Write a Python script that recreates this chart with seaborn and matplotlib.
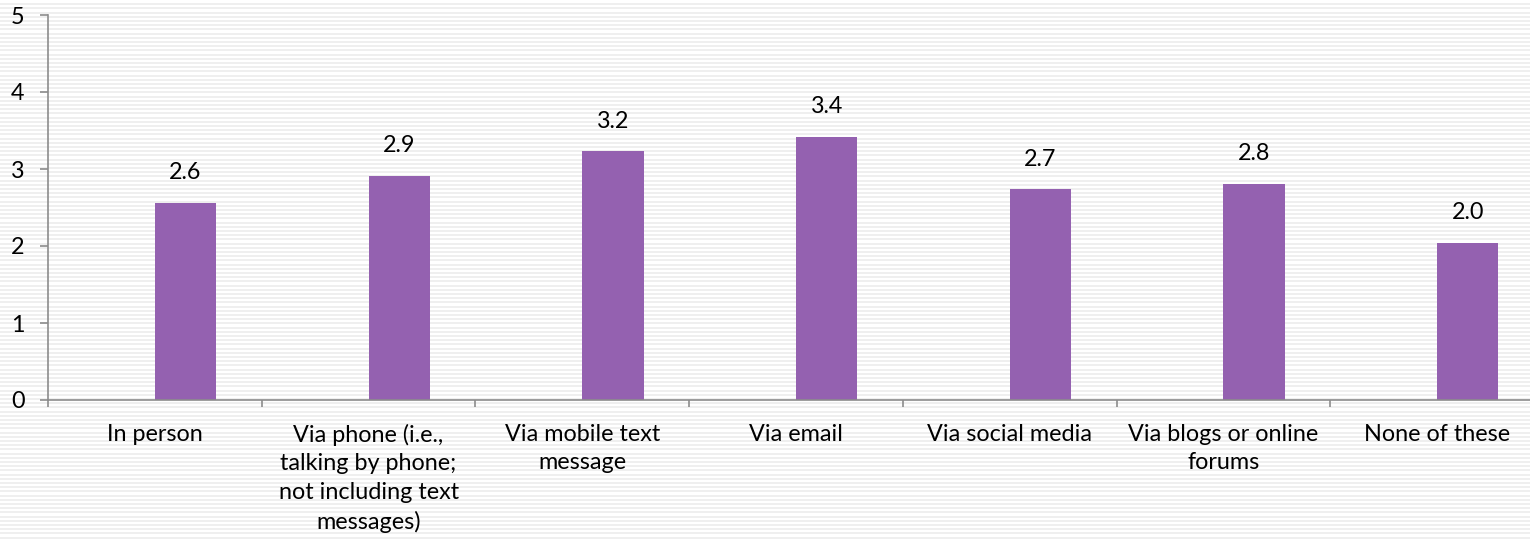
import numpy as np
import pandas as pd
import matplotlib
matplotlib.use("Agg")
import matplotlib.pyplot as plt
from matplotlib.lines import Line2D
from matplotlib.ticker import FixedLocator
import seaborn as sns

# Average score by communication channel
categories = [
    "In person",
    "Via phone (i.e.,\ntalking by phone;\nnot including text\nmessages)",
    "Via mobile text\nmessage",
    "Via email",
    "Via social media",
    "Via blogs or online\nforums",
    "None of these",
]
scores = [2.56, 2.91, 3.23, 3.42, 2.74, 2.81, 2.04]
y_ticks = [0, 1, 2, 3, 4, 5]

sns.set_theme(style="white")
plt.rcParams["font.family"] = ["Lato", "DejaVu Sans"]

# Two-series layout: an empty leading series keeps each bar to the right of its category centre
df = pd.DataFrame({
    "category": categories * 2,
    "series": ["blank"] * len(categories) + ["score"] * len(categories),
    "value": [np.nan] * len(categories) + scores,
})

W, H, DPI = 1530, 539, 100
fig = plt.figure(figsize=(W / DPI, H / DPI), dpi=DPI)
fig.patch.set_facecolor("white")

# Horizontal pinstripe backdrop
for yp in np.arange(1.5, H, 4.2):
    fig.add_artist(Line2D([0, 1], [yp / H, yp / H], transform=fig.transFigure,
                          color="#ececec", linewidth=1.2, zorder=-10))

ax = fig.add_axes([48 / W, 139 / H, (1544 - 48) / W, 385 / H])
ax.patch.set_alpha(0)

purple = "#9461b0"
sns.barplot(data=df, x="category", y="value", hue="series",
            hue_order=["blank", "score"], palette=[purple, purple],
            width=0.574, dodge=True, legend=False, ax=ax, saturation=1)

for p in ax.patches:
    p.set_edgecolor("none")

FS = 16.8
ax.bar_label(ax.containers[-1], fmt="%.1f", padding=14, fontsize=FS, color="black")

ax.set_ylim(0, 5)
ax.set_xlim(-0.5, len(categories) - 0.5)
ax.set_yticks(y_ticks)
ax.set_xlabel("")
ax.set_ylabel("")

for side in ["top", "right"]:
    ax.spines[side].set_visible(False)
for side in ["left", "bottom"]:
    ax.spines[side].set_color("#8c8c8c")
    ax.spines[side].set_linewidth(1.2)

ax.tick_params(axis="y", direction="out", length=6, width=1.2, color="#8c8c8c",
               pad=11, labelsize=FS, labelcolor="black", left=True)
ax.tick_params(axis="x", which="major", length=0, pad=17, labelsize=FS, labelcolor="black")
ax.xaxis.set_minor_locator(FixedLocator(np.arange(-0.5, len(categories), 1.0)))
ax.tick_params(axis="x", which="minor", direction="out", length=5, width=1.2,
               color="#8c8c8c", bottom=True)
for lbl in ax.get_xticklabels():
    lbl.set_linespacing(1.45)
    lbl.set_verticalalignment("top")

fig.savefig("out.png", dpi=DPI)
